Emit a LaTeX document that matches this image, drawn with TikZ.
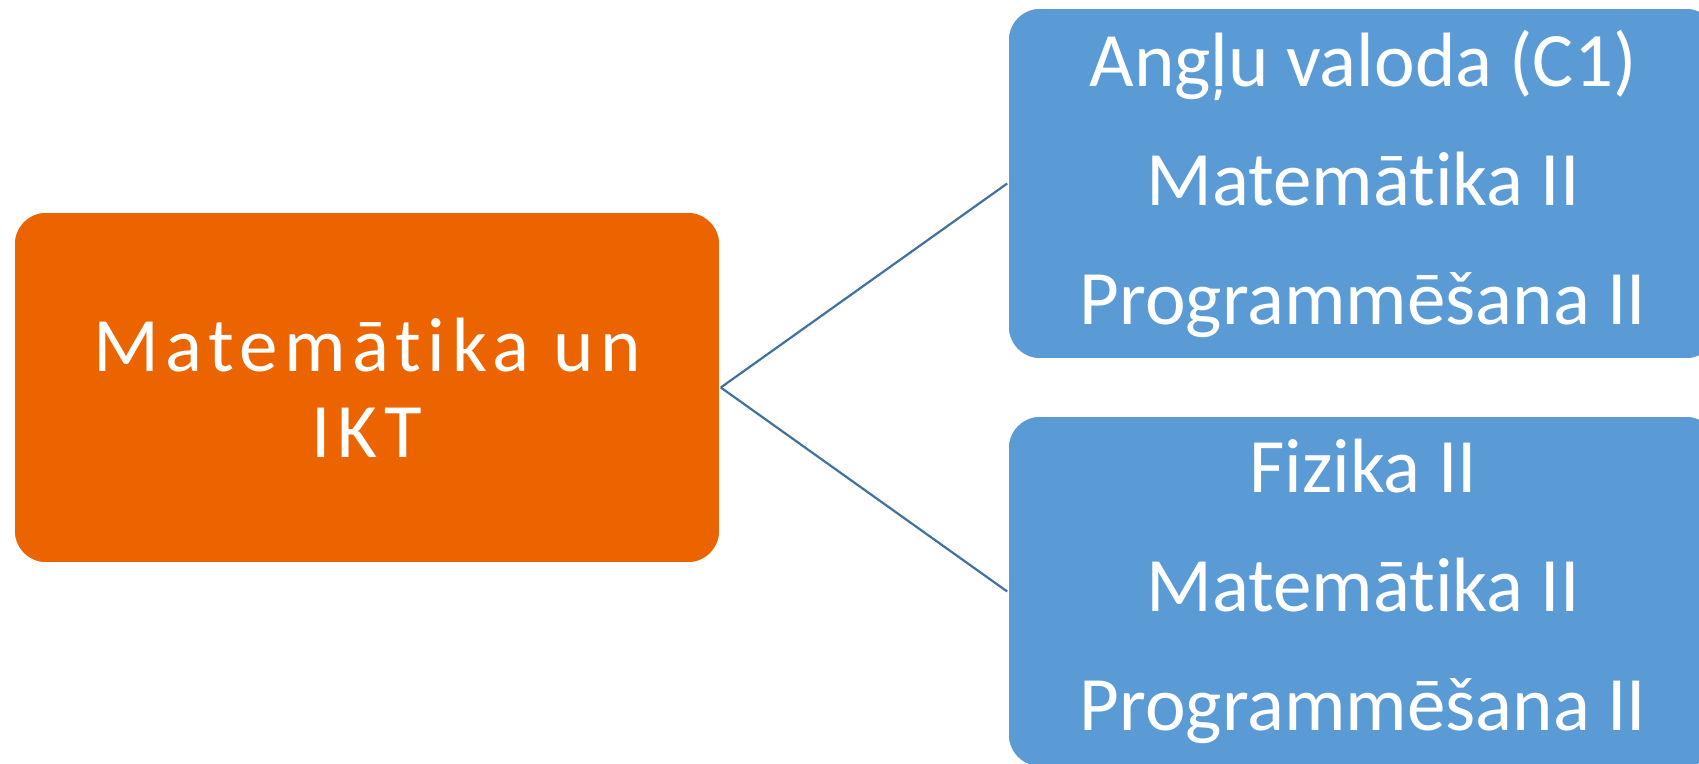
\documentclass[tikz,border=0pt]{standalone}
\usepackage{fontspec}
\setmainfont[Ligatures=NoCommon]{Carlito}
\newfontfamily\spacedfont[LetterSpace=8.5,Ligatures=NoCommon]{Carlito}
\definecolor{orangebox}{HTML}{EC6400}
\definecolor{bluebox}{HTML}{5B9BD5}
\definecolor{linkblue}{HTML}{41719C}
\newcommand{\boxfont}{\fontsize{38.5}{59.5}\selectfont}

\tikzset{
  mainbox/.style={draw=white,line width=0.8pt,fill=orangebox,rounded corners=16pt,text=white,
    minimum width=353pt,minimum height=175.5pt,inner sep=0pt,align=center,
    font=\spacedfont\fontsize{38.5}{43}\selectfont},
  subbox/.style={draw=white,line width=0.8pt,fill=bluebox,rounded corners=16pt,text=white,
    minimum width=355pt,minimum height=175.5pt,inner sep=0pt,align=center,font=\boxfont},
  link/.style={draw=linkblue,line width=1.1pt}
}

\begin{document}
\begin{tikzpicture}[x=0.5pt,y=-0.5pt]
        \useasboundingbox (0,0) rectangle (1699,764);
        \node[mainbox] (ikt) at (367,387.5) {Matemātika un\\IKT};
        \node[subbox] (gads1) at (1363,183.5) {Angļu valoda (C1)\\Matemātika II\\Programmēšana II};
        \node[subbox] (gads2) at (1363,591.5) {Fizika II\\Matemātika II\\Programmēšana II};
        \draw[link] (ikt.east) -- (gads1.west);
        \draw[link] (ikt.east) -- (gads2.west);
      \end{tikzpicture}
\end{document}
